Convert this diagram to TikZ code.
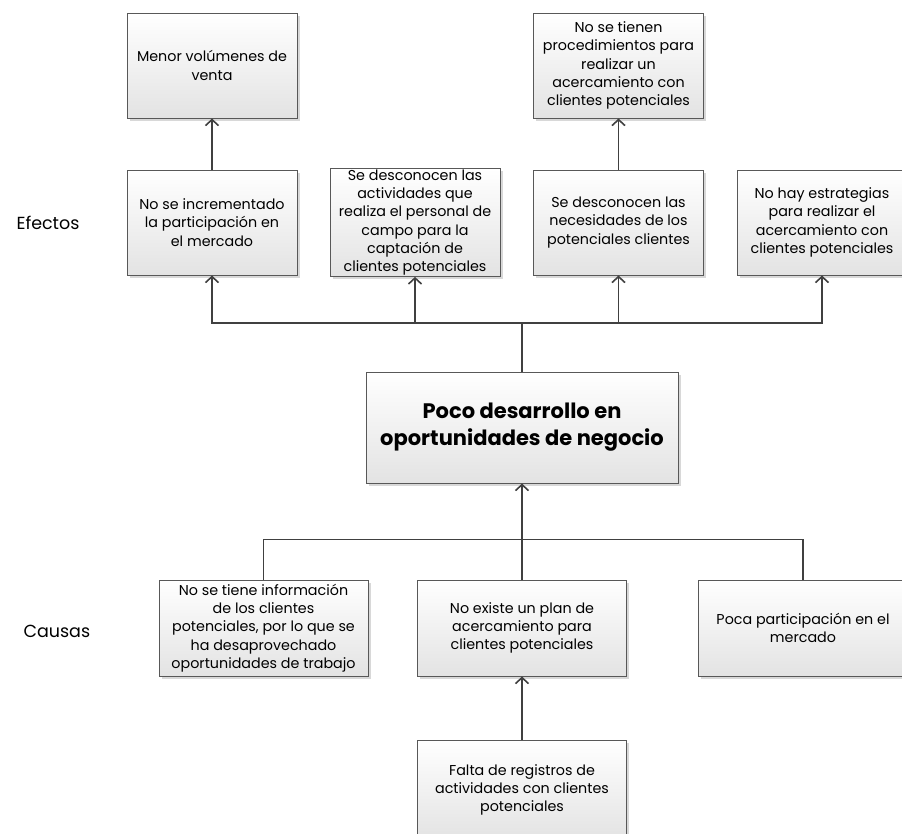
\documentclass[tikz,border=0pt]{standalone}
\usepackage{fontspec}
\setmainfont{Poppins}
\usetikzlibrary{arrows.meta,shadows}
\definecolor{edgec}{HTML}{585858}
\definecolor{wirec}{HTML}{404040}
\begin{document}
\begin{tikzpicture}[x=1pt,y=-1pt,
  box/.style={draw=edgec, line width=1pt, top color=white, bottom color=black!11,
    drop shadow={shadow xshift=2.5pt, shadow yshift=-2.5pt, fill=black!30, opacity=.5},
    align=center, inner sep=1pt, font=\fontsize{14.3}{18.3}\selectfont},
  upbox/.style={box, minimum width=170pt, minimum height=105pt},
  lowbox/.style={box, minimum width=209pt, minimum height=96pt},
  wire/.style={draw=wirec, line width=1.6pt},
  arr/.style={wire, -{Straight Barb[length=6pt,width=13pt]}},
  lab/.style={font=\fontsize{17.5}{20}\selectfont, anchor=west}]
\useasboundingbox (0,0) rectangle (902,833);

\node[upbox] (t1) at (212,65.5) {Menor volúmenes de\\venta};
\node[upbox] (t3) at (618.5,65.5) {No se tienen\\procedimientos para\\realizar un\\acercamiento con\\clientes potenciales};
\node[upbox] (e1) at (212,222.5) {No se incrementado\\la participación en\\el mercado};
\node[upbox] (e2) at (415,222.5) {Se desconocen las\\actividades que\\realiza el personal de\\campo para la\\captación de\\clientes potenciales};
\node[upbox] (e3) at (618.5,222.5) {Se desconocen las\\necesidades de los\\potenciales clientes};
\node[upbox] (e4) at (822,222.5) {No hay estrategias\\para realizar el\\acercamiento con\\clientes potenciales};

\node[box, minimum width=312pt, minimum height=111pt, font=\fontsize{21}{27}\selectfont\bfseries] (p) at (522,427.5) {Poco desarrollo en\\oportunidades de negocio};

\node[lowbox] (c1) at (263.5,628) {No se tiene información\\de los clientes\\potenciales, por lo que se\\ha desaprovechado\\oportunidades de trabajo};
\node[lowbox] (c2) at (522,628) {No existe un plan de\\acercamiento para\\clientes potenciales};
\node[lowbox] (c3) at (803,628) {Poca participación en el\\mercado};
\node[lowbox, minimum height=100pt] (c4) at (522,790) {Falta de registros de\\actividades con clientes\\potenciales};

\node[lab] (ef) at (13,223) {Efectos};
\node[lab] (ca) at (20,631) {Causas};

\coordinate (tb) at (522,323);
\coordinate (bb) at (522,539.5);

\draw[wire] (p.north) -- (tb);
\draw[arr] (tb) -| (e1.south);
\draw[arr] (tb) -| (e2.south);
\draw[arr] (tb) -| (e3.south);
\draw[arr] (tb) -| (e4.south);
\draw[arr] (e1.north) -- (t1.south);
\draw[arr] (e3.north) -- (t3.south);

\draw[arr] (bb) -- (p.south);
\draw[wire] (bb) -| (c1.north);
\draw[wire] (bb) -| (c3.north);
\draw[wire] (bb) -- (c2.north);
\draw[arr] (c4.north) -- (c2.south);
\end{tikzpicture}
\end{document}
